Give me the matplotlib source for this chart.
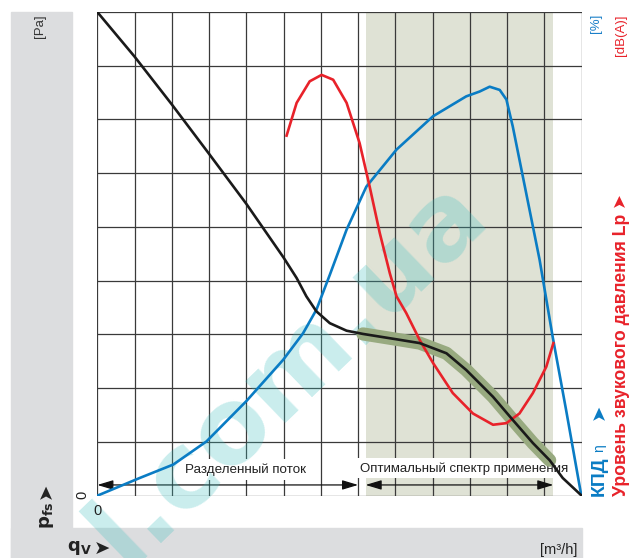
import matplotlib
matplotlib.use("Agg")
import matplotlib.pyplot as plt
from matplotlib.patches import Rectangle

# curves in grid units (x: 13 cells, y: 9 cells)
p_x = [0, 1.0, 2.0, 3.0, 4.0, 5.0, 5.35, 5.61, 5.88, 6.24, 6.69, 7.13, 8.03, 8.65,
       9.37, 9.90, 10.62, 11.15, 11.69, 12.14, 12.49, 13.0]
p_y = [9.0, 8.17, 7.28, 6.36, 5.43, 4.43, 4.05, 3.71, 3.43, 3.21, 3.07, 3.01, 2.91, 2.84,
       2.65, 2.34, 1.84, 1.41, 0.98, 0.66, 0.33, 0.0]

eta_x = [0, 1.14, 2.04, 2.93, 4.0, 4.99, 5.52, 5.88, 6.24, 6.69, 7.22, 8.03, 9.01, 9.90,
         10.26, 10.53, 10.80, 10.98, 11.15, 11.51, 11.87, 12.22, 12.58, 12.99]
eta_y = [0, 0.33, 0.58, 1.01, 1.76, 2.53, 3.02, 3.46, 4.11, 4.95, 5.75, 6.44, 7.06, 7.43,
         7.52, 7.61, 7.55, 7.37, 6.87, 5.63, 4.39, 2.96, 1.60, 0.0]

lp_x = [5.08, 5.35, 5.70, 6.02, 6.33, 6.69, 7.04, 7.31, 7.58, 7.85, 8.03, 8.29, 8.65,
        9.01, 9.54, 10.08, 10.62, 10.98, 11.33, 11.69, 12.05, 12.24]
lp_y = [6.70, 7.31, 7.71, 7.83, 7.74, 7.31, 6.56, 5.75, 4.89, 4.14, 3.71, 3.40, 2.90,
        2.47, 1.91, 1.53, 1.32, 1.35, 1.53, 1.91, 2.40, 2.84]

opt_lo, opt_hi = 7.2, 12.24
split_end = 7.0

W, H = 634, 558
def fx(px):
    return px / W
def fy(py):
    return 1 - py / H

plain = ['Liberation Sans', 'DejaVu Sans']

fig = plt.figure(figsize=(W / 100, H / 100), dpi=100)
fig.patch.set_facecolor('white')
gray = '#dcdddf'
fig.patches.append(Rectangle((fx(11), 0), (72 - 11) / W, (H - 12) / H,
                             transform=fig.transFigure, color=gray, zorder=-5))
fig.patches.append(Rectangle((fx(11), 0), (582 - 11) / W, 30 / H,
                             transform=fig.transFigure, color=gray, zorder=-5))

ax = fig.add_axes([fx(97.3), 1 - 495.7 / H, (581.7 - 97.3) / W, (495.7 - 12) / H])
ax.set_xlim(0, 13)
ax.set_ylim(0, 9)
ax.set_axis_off()

ax.axvspan(opt_lo, opt_hi, color='#dfe2d5', zorder=0.5, lw=0)
for i in range(14):
    ax.axvline(i, color='#3a3a3a', lw=0.9, zorder=1)
for j in range(10):
    ax.axhline(j, color='#3a3a3a', lw=0.9, zorder=1)

# text boxes over the grid
ax.text(3.97, 0.49, 'Разделенный поток', ha='center', va='center', fontsize=9.6,
        family=plain, color='#222222', zorder=1.5,
        bbox=dict(boxstyle='square,pad=0.3', fc='white', ec='none'))
ax.text(9.85, 0.51, 'Оптимальный спектр применения', ha='center', va='center', fontsize=9.5,
        family=plain, color='#222222', zorder=1.5,
        bbox=dict(boxstyle='square,pad=0.3', fc='white', ec='none'))

# dimension arrows
arr = dict(arrowstyle='<|-|>,head_length=0.6,head_width=0.18', color='#111111',
           lw=0.9, mutation_scale=16, shrinkA=0, shrinkB=0)
ax.annotate('', xy=(0, 0.2), xytext=(split_end, 0.2), arrowprops=arr, zorder=1.6)
ax.annotate('', xy=(opt_lo, 0.2), xytext=(opt_hi, 0.2), arrowprops=arr, zorder=1.6)

# watermark
ax.text(fx(288), fy(372), 'l.com.ua', transform=fig.transFigure, rotation=44,
        rotation_mode='anchor', ha='center', va='center', fontsize=76,
        fontweight='bold', family='DejaVu Sans', color='#40c0c0', alpha=0.28,
        clip_on=False, zorder=2)

# optimal range band along the pressure curve
bx = [x for x in p_x if opt_lo - 0.1 <= x <= opt_hi - 0.05]
by = [y for x, y in zip(p_x, p_y) if opt_lo - 0.1 <= x <= opt_hi - 0.05]
ax.plot(bx, by, color='#98aa80', lw=9.5, solid_capstyle='round', zorder=2.5)

ax.plot(eta_x, eta_y, color='#0a7cc4', lw=1.9, zorder=3)
ax.plot(lp_x, lp_y, color='#e8222a', lw=1.9, zorder=3)
ax.plot(p_x, p_y, color='#1a1a1a', lw=1.9, zorder=3.2)

# axis labels
fig.text(fx(40), fy(14), '[Pa]', rotation=90, ha='center', va='top', fontsize=9.5,
         family=plain, color='#333333')
fig.text(fx(596), fy(14), '[%]', rotation=90, ha='center', va='top', fontsize=9.5,
         family=plain, color='#1a7fc8')
fig.text(fx(621), fy(14), '[dB(A)]', rotation=90, ha='center', va='top', fontsize=9.5,
         family=plain, color='#e8222a')
fig.text(fx(577), fy(550), '[m³/h]', ha='right', va='center', fontsize=10.5,
         family=plain, color='#222222')
fig.text(fx(82), fy(495), '0', rotation=90, ha='center', va='center', fontsize=10.5,
         family=plain, color='#222222')
fig.text(fx(98), fy(511), '0', ha='center', va='center', fontsize=10.5,
         family=plain, color='#222222')

fig.text(fx(47), fy(529), r'$\mathbf{p_{fs}}$', rotation=90, ha='center', va='bottom',
         fontsize=13, color='#222222')
fig.text(fx(46), fy(491), '➤', rotation=90, ha='center', va='center',
         fontsize=14, family=['DejaVu Sans'], color='#222222')
fig.text(fx(67), fy(548), r'$\mathbf{q_{V}}$', ha='left', va='center',
         fontsize=13, color='#222222')
fig.text(fx(102), fy(549), '➤', ha='center', va='center',
         fontsize=14, family=['DejaVu Sans'], color='#222222')

fig.text(fx(599), fy(496), 'КПД', rotation=90, ha='center', va='bottom', fontsize=14,
         fontweight='bold', family=plain, color='#0a7cc4')
fig.text(fx(599), fy(452), 'η', rotation=90, ha='center', va='bottom', fontsize=10,
         family=plain, color='#0a7cc4')
fig.text(fx(599), fy(420), '➤', rotation=90, ha='center', va='bottom', fontsize=14,
         family=['DejaVu Sans'], color='#0a7cc4')
fig.text(fx(622), fy(496), 'Уровень звукового давления Lp ➤', rotation=90, ha='center',
         va='bottom', fontsize=12.7, fontweight='bold', family=plain, color='#e8222a')

fig.savefig('out.png', dpi=100)
